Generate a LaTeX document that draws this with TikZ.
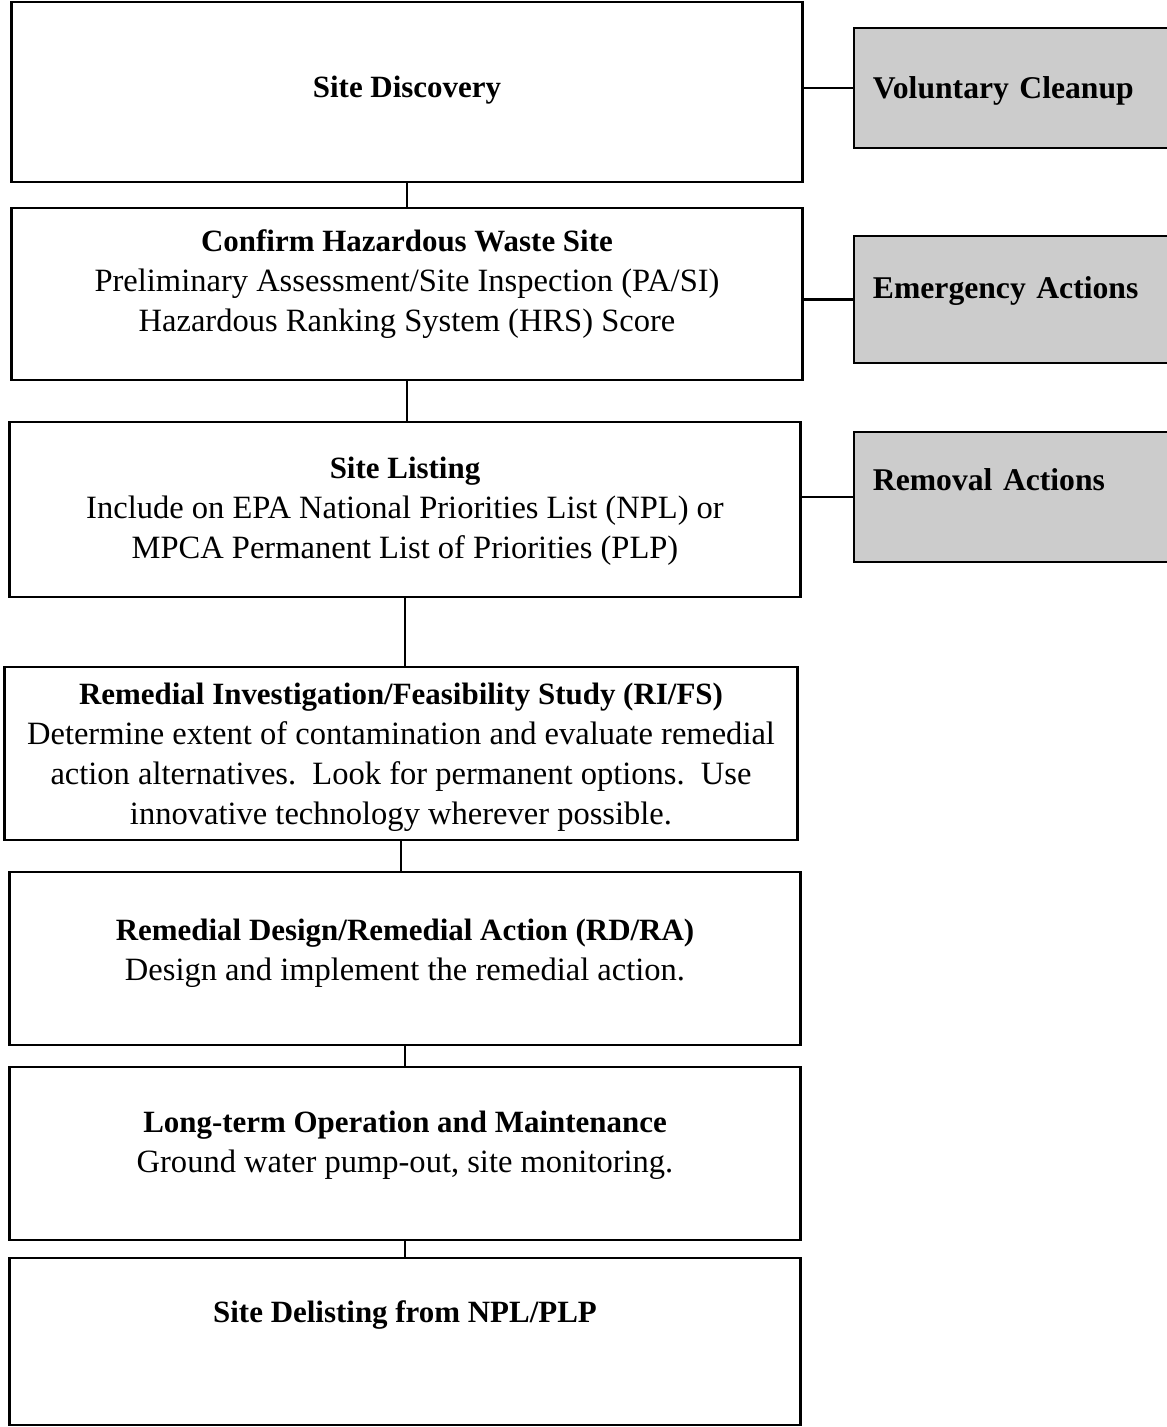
\documentclass[tikz,border=0pt]{standalone}
\usepackage{fontspec}
\setmainfont{Liberation Serif}
\newcommand{\boxtitle}[1]{{\fontsize{8.8}{11.4}\selectfont\bfseries #1}}
\begin{document}
\begin{tikzpicture}[x=0.01cm,y=-0.01cm,
        stage/.style={draw,line width=0.75pt,minimum width=7.9cm,align=center,inner sep=0pt,
          font=\fontsize{9.25}{11.4}\selectfont},
        side/.style={draw,line width=0.75pt,fill=black!20,text width=3.0cm,align=left,
          inner xsep=0.19cm,inner ysep=0pt,font=\bfseries\fontsize{9}{11.4}\selectfont},
        link/.style={line width=0.75pt}]
        \clip (0,0) rectangle (1167,1427);

        \node (disc) at (407,92) [stage,minimum height=1.8cm,text depth=0.1cm] {\boxtitle{Site Discovery}};
        \node (conf) at (407,294) [stage,minimum height=1.72cm,text depth=0.27cm]
          {\boxtitle{Confirm Hazardous Waste Site}\\
           Preliminary Assessment/Site Inspection (PA/SI)\\
           Hazardous Ranking System (HRS) Score};
        \node (list) at (405,509.5) [stage,minimum height=1.75cm,text depth=0.03cm]
          {\boxtitle{Site Listing}\\
           Include on EPA National Priorities List (NPL) or\\
           MPCA Permanent List of Priorities (PLP)};
        \node (rifs) at (401,753.5) [stage,minimum width=7.92cm,minimum height=1.73cm,text depth=-0.2cm]
          {\boxtitle{Remedial Investigation/Feasibility Study (RI/FS)}\\
           Determine extent of contamination and evaluate remedial\\
           action alternatives.\ \ Look for permanent options.\ \ Use\\
           innovative technology wherever possible.};
        \node (rdra) at (405,958.5) [stage,minimum height=1.73cm,text depth=0.18cm]
          {\boxtitle{Remedial Design/Remedial Action (RD/RA)}\\
           Design and implement the remedial action.};
        \node (oandm) at (405,1153.5) [stage,minimum height=1.73cm,text depth=0.24cm]
          {\boxtitle{Long-term Operation and Maintenance}\\
           Ground water pump-out, site monitoring.};
        \node (delist) at (405,1341.5) [stage,minimum height=1.67cm,text depth=0.6cm]
          {\boxtitle{Site Delisting from NPL/PLP}};

        \node (vol) at (1023,88) [side,minimum height=1.2cm,text depth=0cm] {Voluntary Cleanup};
        \node (emerg) at (1023,299.5) [side,minimum height=1.27cm,text depth=0.23cm] {Emergency Actions};
        \node (remov) at (1023,497) [side,minimum height=1.3cm,text depth=0.35cm] {Removal Actions};

        \draw[link] (disc.south) -- (disc.south |- conf.north);
        \draw[link] (conf.south) -- (conf.south |- list.north);
        \draw[link] (list.south) -- (list.south |- rifs.north);
        \draw[link] (rifs.south) -- (rifs.south |- rdra.north);
        \draw[link] (rdra.south) -- (oandm.north);
        \draw[link] (oandm.south) -- (delist.north);

        \draw[link] (vol.west) -- (vol.west -| disc.east);
        \draw[link] (emerg.west) -- (emerg.west -| conf.east);
        \draw[line width=0.5pt] (remov.west) -- (remov.west -| list.east);
\end{tikzpicture}
\end{document}
